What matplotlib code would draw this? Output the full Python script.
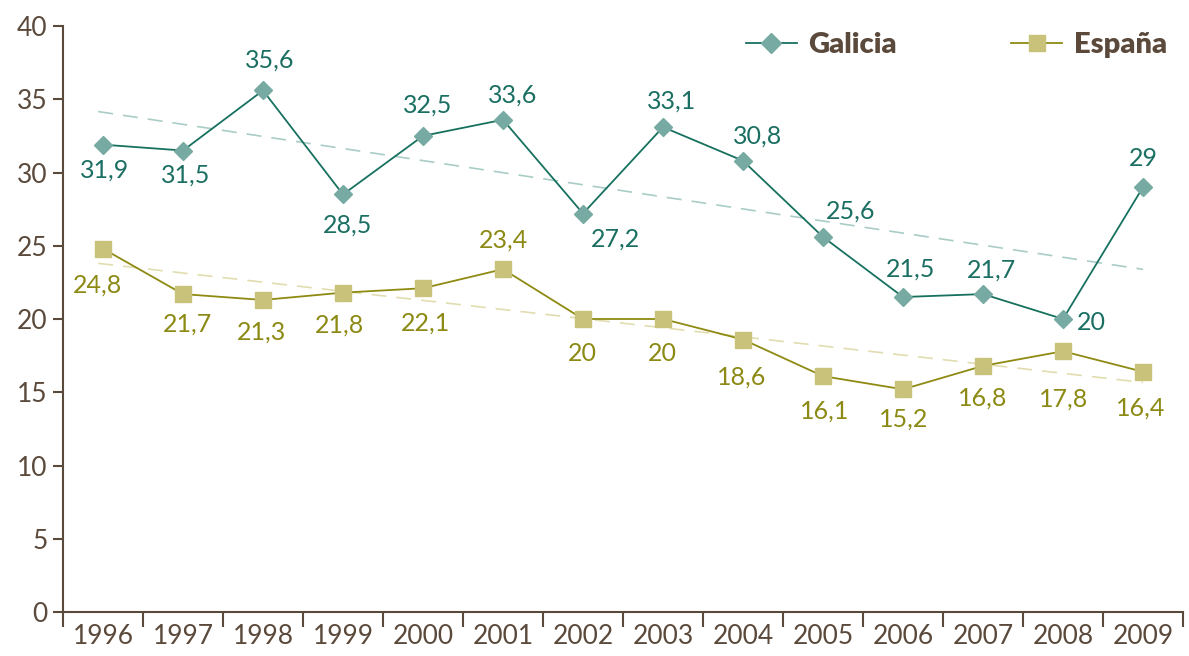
import matplotlib
matplotlib.use("Agg")
import matplotlib.pyplot as plt
import numpy as np
from matplotlib.lines import Line2D

years = ["1996", "1997", "1998", "1999", "2000", "2001", "2002", "2003",
         "2004", "2005", "2006", "2007", "2008", "2009"]
galicia = [31.9, 31.5, 35.6, 28.5, 32.5, 33.6, 27.2, 33.1, 30.8, 25.6, 21.5, 21.7, 20.0, 29.0]
espana = [24.8, 21.7, 21.3, 21.8, 22.1, 23.4, 20.0, 20.0, 18.6, 16.1, 15.2, 16.8, 17.8, 16.4]
yticks = [0, 5, 10, 15, 20, 25, 30, 35, 40]

# label offsets in pixels (dx, dy), positive dy = up
gal_off = [(2, -25), (3, -25), (7, 30), (5, -31), (5, 31), (10, 25), (32, -26), (9, 26),
           (15, 25), (28, 26), (8, 28), (8, 24), (28, -3), (0, 29)]
esp_off = [(-5, -36), (4, -30), (-1, -32), (-3, -32), (2, -35), (1, 29), (-1, -34), (-1, -34),
           (-1, -38), (2, -35), (1, -30), (0, -32), (1, -48), (-2, -36)]

BROWN = "#5b4a3b"
G_LINE = "#17715f"
G_MARK = "#76aaa2"
G_TEXT = "#1b6f62"
G_TREND = "#a9cdc6"
E_LINE = "#8e8a12"
E_MARK = "#c8c27a"
E_TEXT = "#8c8a14"
E_TREND = "#e2ddb0"

plt.rcParams["font.family"] = ["Lato", "DejaVu Sans"]

fig = plt.figure(figsize=(11.89, 6.56), dpi=100)
ax = fig.add_axes([63 / 1189, 1 - 612 / 656, 1120 / 1189, 586 / 656])

x = np.arange(len(years))

# trend lines
for vals, col in ((galicia, G_TREND), (espana, E_TREND)):
    p = np.polyfit(x, vals, 1)
    xt = np.array([-0.06, 13.0])
    ax.plot(xt, np.polyval(p, xt), color=col, lw=1.2, dashes=(9, 6), zorder=1)

ax.plot(x, galicia, color=G_LINE, lw=1.3, marker="D", ms=9, mfc=G_MARK, mec=G_MARK, zorder=3)
ax.plot(x, espana, color=E_LINE, lw=1.3, marker="s", ms=11, mfc=E_MARK, mec=E_MARK, zorder=3)

def fmt(v):
    s = f"{v:.1f}".replace(".", ",")
    if s.endswith(",0"):
        s = s[:-2]
    return s

LBL = dict(fontsize=18)
for xi, v, (dx, dy) in zip(x, galicia, gal_off):
    ax.annotate(fmt(v), (xi, v), xytext=(dx, dy), textcoords="offset pixels",
                ha="center", va="center", color=G_TEXT, zorder=4, **LBL)
for xi, v, (dx, dy) in zip(x, espana, esp_off):
    ax.annotate(fmt(v), (xi, v), xytext=(dx, dy), textcoords="offset pixels",
                ha="center", va="center", color=E_TEXT, zorder=4, **LBL)

ax.set_xlim(-0.5, 13.5)
ax.set_ylim(0, 40)
ax.set_yticks(yticks)
ax.set_yticklabels([str(t) for t in yticks])
ax.set_xticks(x)
ax.set_xticklabels(years)
ax.set_xticks(np.arange(-0.5, 14.0, 1.0), minor=True)

for s in ("top", "right"):
    ax.spines[s].set_visible(False)
for s in ("left", "bottom"):
    ax.spines[s].set_color(BROWN)
    ax.spines[s].set_linewidth(1.5)

ax.tick_params(axis="y", direction="out", length=7, width=1.5, color=BROWN,
               labelcolor=BROWN, labelsize=19, pad=4)
ax.tick_params(axis="x", which="major", length=0, labelcolor=BROWN, labelsize=19, pad=9)
ax.tick_params(axis="x", which="minor", direction="out", length=11, width=1.5, color=BROWN)

handles = [
    Line2D([], [], color=G_LINE, lw=1.3, marker="D", ms=10, mfc=G_MARK, mec=G_MARK),
    Line2D([], [], color=E_LINE, lw=1.3, marker="s", ms=12, mfc=E_MARK, mec=E_MARK),
]
leg = ax.legend(handles, ["Galicia", "España"], ncol=2, frameon=False,
                loc="upper right", bbox_to_anchor=(1.009, 1.035), columnspacing=3.9,
                handlelength=1.75, handletextpad=0.4,
                prop={"weight": "heavy", "size": 21})
for t in leg.get_texts():
    t.set_color(BROWN)

fig.savefig("out.png", dpi=100)
